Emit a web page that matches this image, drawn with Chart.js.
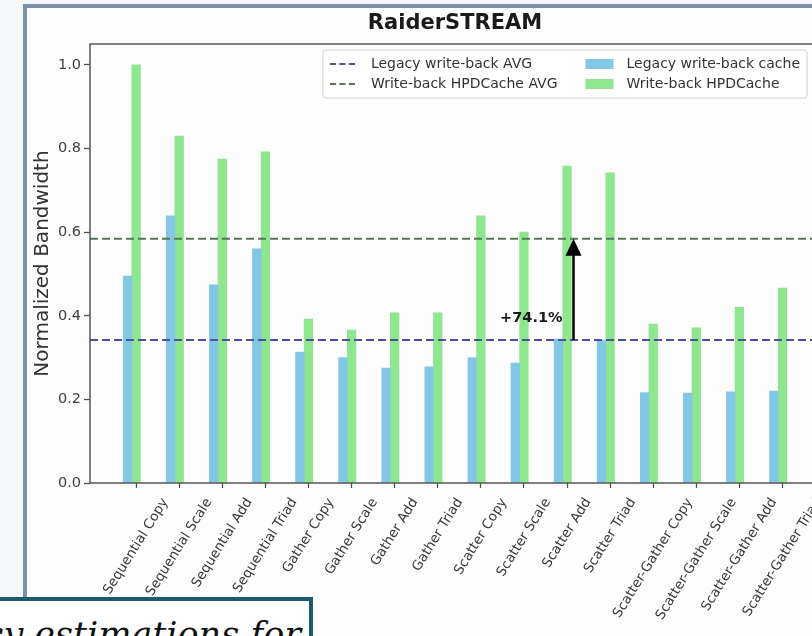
<!DOCTYPE html>
<html>
<head>
<meta charset="utf-8">
<title>RaiderSTREAM</title>
<script src="https://cdn.jsdelivr.net/npm/chart.js@4.4.1/dist/chart.umd.min.js"></script>
<style>
    html, body { margin: 0; padding: 0; }
    body {
        width: 812px; height: 636px; overflow: hidden; position: relative;
        background: #f5f6f8; font-family: "DejaVu Sans", sans-serif;
    }
    #panel {
        position: absolute; left: 23px; top: 4px; width: 900px; height: 700px;
        border-left: 4px solid #7b93a9; border-top: 4px solid #7b93a9; background: #fdfdfd;
    }
    #panel canvas { position: absolute; left: 0; top: 0; }
    #caption {
        position: absolute; left: -10px; top: 597px; width: 315px; height: 60px;
        border: 4px solid #1d5a72; background: #fff; overflow: hidden;
    }
    #caption span {
        position: absolute; right: 8px; top: 16px; white-space: nowrap;
        font: italic 35px/36px "DejaVu Serif", serif; color: #111;
    }
</style>
</head>
<body>
<div id="panel"><canvas id="bandwidthChart" width="801" height="628"></canvas></div>
<div id="caption"><span>accuracy estimations for</span></div>
<script>
// values (normalized bandwidth)
const CATEGORIES = [
    'Sequential Copy', 'Sequential Scale', 'Sequential Add', 'Sequential Triad',
    'Gather Copy', 'Gather Scale', 'Gather Add', 'Gather Triad',
    'Scatter Copy', 'Scatter Scale', 'Scatter Add', 'Scatter Triad',
    'Scatter-Gather Copy', 'Scatter-Gather Scale', 'Scatter-Gather Add', 'Scatter-Gather Triad'
];
const LEGACY = [0.495, 0.639, 0.474, 0.560, 0.313, 0.300, 0.275, 0.278,
                0.300, 0.287, 0.344, 0.342, 0.216, 0.215, 0.218, 0.220];
const HPDCACHE = [1.000, 0.830, 0.775, 0.792, 0.392, 0.366, 0.407, 0.407,
                  0.639, 0.600, 0.758, 0.742, 0.380, 0.371, 0.420, 0.466];
const Y_TICKS = [0.0, 0.2, 0.4, 0.6, 0.8, 1.0];
const GAIN_LABEL = '+74.1%';

// axis range and annotation anchor, in data units
const XMIN = -1.07, XMAX = 15.87;
const BAR_W = 0.2;
const ARROW_X = 10.15;
const GAIN_POS = [9.17, 0.395];

const FONT = '"DejaVu Sans", sans-serif';
const mean = (arr) => arr.reduce((s, v) => s + v, 0) / arr.length;
const legacyAvg = mean(LEGACY);
const hpdAvg = mean(HPDCACHE);

Chart.defaults.font.family = FONT;

// rotated tick labels centred on the tick (matplotlib ha='center')
const tickLabels = {
    id: 'tickLabels',
    afterDraw(chart) {
        const { ctx } = chart;
        const x = chart.scales.x;
        const th = 58 * Math.PI / 180;
        const size = 13.5;
        ctx.save();
        ctx.font = `${size}px ${FONT}`;
        ctx.fillStyle = '#3a3a3a';
        CATEGORIES.forEach((lab, i) => {
            const px = x.getPixelForValue(i);
            const len = ctx.measureText(lab).width;
            const h = len * Math.sin(th) + size * Math.cos(th);
            ctx.save();
            ctx.translate(px, x.top + 13 + h / 2);
            ctx.rotate(-th);
            ctx.textAlign = 'center';
            ctx.textBaseline = 'middle';
            ctx.fillText(lab, 0, 0);
            ctx.restore();
        });
        ctx.restore();
    }
};

const gainArrow = {
    id: 'gainArrow',
    afterDatasetsDraw(chart) {
        const { ctx } = chart;
        const x = chart.scales.x, y = chart.scales.y;
        const ax = x.getPixelForValue(ARROW_X);
        const y0 = y.getPixelForValue(legacyAvg);
        const y1 = y.getPixelForValue(hpdAvg);
        ctx.save();
        ctx.strokeStyle = '#000';
        ctx.fillStyle = '#000';
        ctx.lineWidth = 2.5;
        ctx.beginPath();
        ctx.moveTo(ax, y0);
        ctx.lineTo(ax, y1 + 12);
        ctx.stroke();
        ctx.beginPath();
        ctx.moveTo(ax, y1);
        ctx.lineTo(ax - 8, y1 + 17);
        ctx.lineTo(ax + 8, y1 + 17);
        ctx.closePath();
        ctx.fill();
        ctx.font = `bold 14.5px ${FONT}`;
        ctx.fillStyle = '#1a1a1a';
        ctx.textAlign = 'center';
        ctx.textBaseline = 'middle';
        ctx.fillText(GAIN_LABEL, x.getPixelForValue(GAIN_POS[0]), y.getPixelForValue(GAIN_POS[1]));
        ctx.restore();
    }
};

// axes frame plus a matplotlib style legend inside the plot
const frameAndLegend = {
    id: 'frameAndLegend',
    afterDraw(chart) {
        const { ctx, chartArea: ca } = chart;
        const ds = chart.data.datasets;
        ctx.save();
        ctx.strokeStyle = '#555';
        ctx.lineWidth = 1.5;
        ctx.strokeRect(ca.left, ca.top, ca.right - ca.left, ca.bottom - ca.top);

        ctx.font = `14px ${FONT}`;
        const w1 = Math.max(ctx.measureText(ds[0].label).width, ctx.measureText(ds[1].label).width);
        const w2 = Math.max(ctx.measureText(ds[2].label).width, ctx.measureText(ds[3].label).width);
        const pad = 7, hl = 28, htp = 13, cs = 28;
        const W = pad + hl + htp + w1 + cs + hl + htp + w2 + pad;
        const right = ca.right - 13;
        const left = right - W;
        const top = ca.top + 6;
        const H = 48;
        ctx.beginPath();
        ctx.roundRect(left, top, W, H, 3);
        ctx.fillStyle = 'rgba(255,255,255,0.85)';
        ctx.fill();
        ctx.strokeStyle = '#d0d0d0';
        ctx.lineWidth = 1;
        ctx.stroke();

        const rows = [top + 14, top + 34];
        ctx.textAlign = 'left';
        ctx.textBaseline = 'middle';
        rows.forEach((ry, r) => {
            const line = ds[r];
            ctx.strokeStyle = line.borderColor;
            ctx.lineWidth = 2;
            ctx.setLineDash([6, 3.5]);
            ctx.beginPath();
            ctx.moveTo(left + pad, ry);
            ctx.lineTo(left + pad + hl, ry);
            ctx.stroke();
            ctx.setLineDash([]);
            ctx.fillStyle = '#333';
            ctx.fillText(line.label, left + pad + hl + htp, ry);

            const bar = ds[r + 2];
            const x0 = left + pad + hl + htp + w1 + cs;
            ctx.fillStyle = bar.backgroundColor;
            ctx.fillRect(x0, ry - 5, hl, 10);
            ctx.fillStyle = '#333';
            ctx.fillText(bar.label, x0 + hl + htp, ry);
        });
        ctx.restore();
    }
};

new Chart(document.getElementById('bandwidthChart'), {
    type: 'bar',
    data: {
        datasets: [
            {
                type: 'line',
                label: 'Legacy write-back AVG',
                data: [{ x: XMIN, y: legacyAvg }, { x: XMAX, y: legacyAvg }],
                borderColor: '#4f4fa2',
                borderWidth: 2,
                borderDash: [8, 4],
                pointRadius: 0,
                order: 0
            },
            {
                type: 'line',
                label: 'Write-back HPDCache AVG',
                data: [{ x: XMIN, y: hpdAvg }, { x: XMAX, y: hpdAvg }],
                borderColor: '#587658',
                borderWidth: 2,
                borderDash: [8, 4],
                pointRadius: 0,
                order: 0
            },
            {
                label: 'Legacy write-back cache',
                data: LEGACY.map((v, i) => ({ x: i - BAR_W, y: v })),
                backgroundColor: '#82c8e6',
                grouped: false,
                categoryPercentage: 1,
                barPercentage: 1,
                order: 1
            },
            {
                label: 'Write-back HPDCache',
                data: HPDCACHE.map((v, i) => ({ x: i, y: v })),
                backgroundColor: '#8ee68e',
                grouped: false,
                categoryPercentage: 1,
                barPercentage: 1,
                order: 1
            }
        ]
    },
    options: {
        responsive: false,
        animation: false,
        devicePixelRatio: 1,
        layout: { padding: { left: 0, right: 8, top: 0, bottom: 0 } },
        plugins: {
            legend: { display: false },
            tooltip: { enabled: false },
            title: {
                display: true,
                text: 'RaiderSTREAM',
                fullSize: false,
                color: '#1a1a1a',
                font: { size: 21, weight: 'bold' },
                padding: { top: 3, bottom: 7.8 }
            }
        },
        scales: {
            x: {
                type: 'linear',
                min: XMIN,
                max: XMAX,
                offset: false,
                afterBuildTicks: (s) => { s.ticks = CATEGORIES.map((_, i) => ({ value: i })); },
                ticks: { display: false },
                grid: {
                    offset: false, drawOnChartArea: false, drawTicks: true,
                    tickLength: 5, tickColor: '#505050', tickWidth: 1.3
                },
                border: { display: false },
                afterFit: (s) => { s.height = 153; }
            },
            y: {
                min: 0,
                max: 1.05,
                afterBuildTicks: (s) => { s.ticks = Y_TICKS.map((v) => ({ value: v })); },
                ticks: {
                    callback: (v) => v.toFixed(1),
                    font: { size: 14.5 },
                    color: '#404040',
                    padding: 3
                },
                grid: {
                    offset: false, drawOnChartArea: false, drawTicks: true,
                    tickLength: 6, tickColor: '#505050', tickWidth: 1.3
                },
                border: { display: false },
                title: {
                    display: true,
                    text: 'Normalized Bandwidth',
                    color: '#333',
                    font: { size: 20 },
                    padding: { top: 4, bottom: 4 }
                },
                afterFit: (s) => { s.width = 63; }
            }
        }
    },
    plugins: [gainArrow, frameAndLegend, tickLabels]
});
</script>
</body>
</html>
